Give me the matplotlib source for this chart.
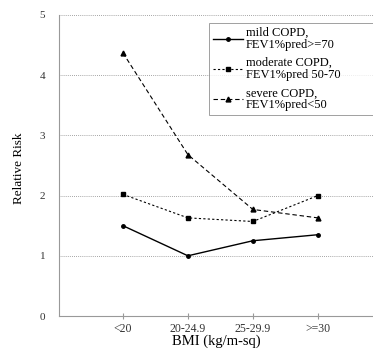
import matplotlib
matplotlib.use("Agg")
import matplotlib.pyplot as plt

categories = ["<20", "20-24.9", "25-29.9", ">=30"]
mild = [1.50, 1.00, 1.25, 1.35]
moderate = [2.02, 1.63, 1.57, 2.00]
severe = [4.37, 2.68, 1.77, 1.63]
labels = ["mild COPD,\nFEV1%pred>=70", "moderate COPD,\nFEV1%pred 50-70", "severe COPD,\nFEV1%pred<50"]

plt.rcParams['font.family'] = ['Liberation Serif', 'DejaVu Serif']

fig = plt.figure(figsize=(3.73, 3.49), dpi=100)
ax = fig.add_axes([59/373, 33/349, 1 - 59/373, (316 - 15)/349])

x = list(range(len(categories)))
ax.plot(x, mild, color='black', lw=1.0, ls='-', marker='o', ms=2.5, label=labels[0])
ax.plot(x, moderate, color='black', lw=0.8, ls=(0, (2, 2)), marker='s', ms=3.2, label=labels[1])
ax.plot(x, severe, color='black', lw=0.8, ls=(0, (4, 2.5)), marker='^', ms=3.5, label=labels[2])

ax.set_ylim(0, 5)
ax.set_xlim(-0.985, 3.85)
ax.set_yticks([0, 1, 2, 3, 4, 5])
ax.set_xticks(x)
ax.set_xticklabels(categories)
for yv in [1, 2, 3, 4, 5]:
    ax.axhline(yv, color='#888888', lw=0.6, ls=(0, (1, 1.5)), zorder=0)

for s in ['top', 'right']:
    ax.spines[s].set_visible(False)
for s in ['left', 'bottom']:
    ax.spines[s].set_color('#999999')
    ax.spines[s].set_linewidth(0.8)

ax.tick_params(axis='y', length=0, pad=10, labelsize=8, colors='#333333')
ax.tick_params(axis='x', length=4, direction='inout', pad=3, labelsize=8.5, colors='#999999', labelcolor='#333333')

ax.set_xlabel("BMI (kg/m-sq)", fontsize=10.5)
ax.xaxis.set_label_coords((216 - 59) / 314, (316 - 334.5) / 301)
ax.set_ylabel("Relative Risk", fontsize=9.5)
ax.yaxis.set_label_coords((25 - 59) / 314, (316 - 168) / 301)

leg = ax.legend(loc='upper left', bbox_to_anchor=(209/373, 1 - 114/349, 175/373, 91/349),
                bbox_transform=fig.transFigure, mode='expand',
                fontsize=9, frameon=True, fancybox=False, edgecolor='#888888', handlelength=2.4,
                labelspacing=0.5, borderpad=0.3, handletextpad=0.25, borderaxespad=0)
leg.get_frame().set_linewidth(0.7)
for t in leg.get_texts():
    t.set_linespacing(1.0)

fig.savefig("out.png", dpi=100)
